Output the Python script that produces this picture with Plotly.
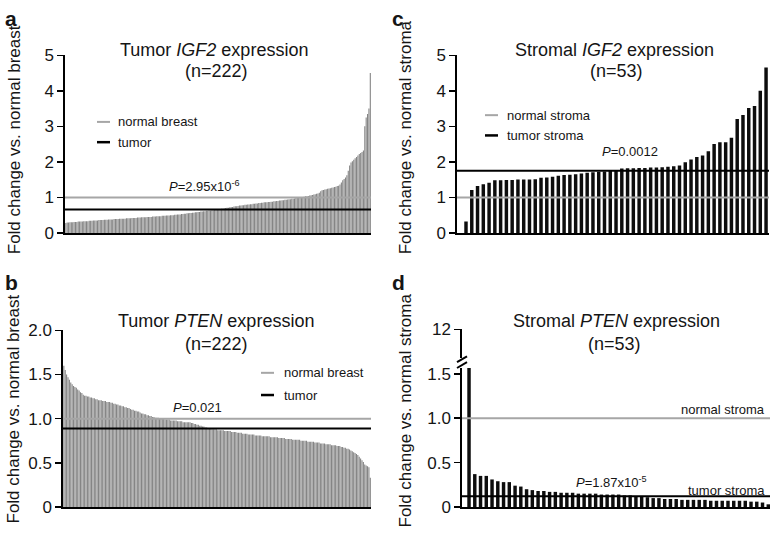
import plotly.graph_objects as go

W, H = 774, 544
FONT = "Liberation Sans, Arial, Helvetica, sans-serif"
TXT = "#151515"
GREY = "#a6a6a6"

# ---------------- data ----------------
# a: tumor IGF2 fold change (n=222), sorted ascending
tumor_igf2 = [
    0.28, 0.29, 0.29, 0.30, 0.30, 0.30, 0.31, 0.31, 0.31, 0.32,
    0.32, 0.32, 0.32, 0.33, 0.33, 0.33, 0.33, 0.34, 0.34, 0.34,
    0.35, 0.35, 0.35, 0.35, 0.36, 0.36, 0.36, 0.36, 0.37, 0.37,
    0.37, 0.38, 0.38, 0.38, 0.38, 0.39, 0.39, 0.39, 0.39, 0.40,
    0.40, 0.40, 0.40, 0.40, 0.41, 0.41, 0.41, 0.41, 0.42, 0.42,
    0.42, 0.42, 0.43, 0.43, 0.43, 0.44, 0.44, 0.44, 0.44, 0.45,
    0.45, 0.45, 0.45, 0.46, 0.46, 0.46, 0.47, 0.47, 0.47, 0.47,
    0.48, 0.48, 0.48, 0.49, 0.49, 0.49, 0.50, 0.50, 0.50, 0.51,
    0.51, 0.52, 0.52, 0.52, 0.53, 0.53, 0.54, 0.54, 0.55, 0.55,
    0.56, 0.56, 0.57, 0.57, 0.58, 0.58, 0.59, 0.59, 0.60, 0.60,
    0.61, 0.61, 0.62, 0.62, 0.63, 0.63, 0.64, 0.64, 0.65, 0.65,
    0.66, 0.66, 0.67, 0.68, 0.68, 0.69, 0.70, 0.71, 0.71, 0.72,
    0.73, 0.73, 0.74, 0.75, 0.75, 0.76, 0.77, 0.77, 0.78, 0.78,
    0.79, 0.79, 0.80, 0.80, 0.81, 0.81, 0.82, 0.82, 0.83, 0.83,
    0.84, 0.84, 0.85, 0.85, 0.86, 0.86, 0.86, 0.87, 0.87, 0.88,
    0.88, 0.89, 0.89, 0.90, 0.90, 0.91, 0.91, 0.92, 0.92, 0.93,
    0.93, 0.94, 0.95, 0.95, 0.96, 0.96, 0.97, 0.98, 0.98, 0.99,
    1.00, 1.00, 1.01, 1.02, 1.03, 1.03, 1.04, 1.05, 1.06, 1.07,
    1.08, 1.09, 1.10, 1.11, 1.13, 1.17, 1.20, 1.21, 1.22, 1.23,
    1.24, 1.25, 1.26, 1.27, 1.28, 1.29, 1.30, 1.32, 1.33, 1.36,
    1.42, 1.48, 1.52, 1.56, 1.62, 1.75, 1.90, 1.98, 2.02, 2.06,
    2.10, 2.14, 2.18, 2.22, 2.25, 2.28, 2.32, 3.00, 3.25, 3.35,
    3.50, 4.50,
]
a_normal = 1.0
a_tumor = 0.66

# b: tumor PTEN fold change (n=222), sorted descending
tumor_pten = [
    1.60, 1.55, 1.50, 1.47, 1.44, 1.41, 1.39, 1.37, 1.36, 1.35,
    1.33, 1.32, 1.30, 1.29, 1.27, 1.26, 1.26, 1.25, 1.25, 1.24,
    1.24, 1.23, 1.23, 1.22, 1.22, 1.21, 1.21, 1.21, 1.20, 1.20,
    1.20, 1.19, 1.19, 1.19, 1.18, 1.18, 1.17, 1.17, 1.16, 1.16,
    1.15, 1.15, 1.14, 1.14, 1.13, 1.13, 1.12, 1.12, 1.11, 1.10,
    1.10, 1.09, 1.09, 1.08, 1.08, 1.07, 1.06, 1.06, 1.05, 1.05,
    1.04, 1.04, 1.03, 1.03, 1.02, 1.02, 1.01, 1.01, 1.01, 1.00,
    1.00, 1.00, 1.00, 0.99, 0.99, 0.99, 0.99, 0.98, 0.98, 0.98,
    0.98, 0.98, 0.97, 0.97, 0.97, 0.97, 0.96, 0.96, 0.96, 0.96,
    0.96, 0.96, 0.95, 0.95, 0.94, 0.94, 0.93, 0.93, 0.92, 0.92,
    0.91, 0.91, 0.90, 0.90, 0.89, 0.89, 0.89, 0.88, 0.88, 0.88,
    0.88, 0.87, 0.87, 0.87, 0.87, 0.87, 0.86, 0.86, 0.86, 0.86,
    0.86, 0.85, 0.85, 0.85, 0.85, 0.84, 0.84, 0.84, 0.84, 0.83,
    0.83, 0.83, 0.83, 0.82, 0.82, 0.82, 0.82, 0.82, 0.81, 0.81,
    0.81, 0.81, 0.81, 0.80, 0.80, 0.80, 0.80, 0.80, 0.80, 0.79,
    0.79, 0.79, 0.79, 0.79, 0.79, 0.78, 0.78, 0.78, 0.78, 0.78,
    0.77, 0.77, 0.77, 0.77, 0.77, 0.76, 0.76, 0.76, 0.76, 0.76,
    0.76, 0.75, 0.75, 0.75, 0.75, 0.75, 0.74, 0.74, 0.74, 0.74,
    0.74, 0.73, 0.73, 0.73, 0.73, 0.72, 0.72, 0.72, 0.72, 0.71,
    0.71, 0.71, 0.71, 0.70, 0.70, 0.70, 0.70, 0.69, 0.69, 0.69,
    0.68, 0.68, 0.67, 0.67, 0.66, 0.66, 0.65, 0.64, 0.63, 0.62,
    0.61, 0.60, 0.59, 0.57, 0.55, 0.53, 0.51, 0.48, 0.47, 0.46,
    0.45, 0.33,
]
b_normal = 1.0
b_tumor = 0.89

# c: stromal IGF2 fold change (n=53), sorted ascending
stromal_igf2 = [
    0.32, 1.21, 1.32, 1.37, 1.41, 1.48, 1.48, 1.49, 1.49, 1.50,
    1.50, 1.50, 1.51, 1.55, 1.56, 1.58, 1.61, 1.63, 1.64, 1.65,
    1.67, 1.69, 1.71, 1.72, 1.73, 1.74, 1.74, 1.81, 1.82, 1.82,
    1.83, 1.83, 1.84, 1.84, 1.85, 1.86, 1.88, 1.90, 1.99, 2.07,
    2.14, 2.18, 2.30, 2.50, 2.55, 2.55, 2.68, 3.21, 3.32, 3.52,
    3.57, 4.00, 4.66,
]
c_normal = 1.0
c_tumor = 1.75

# d: stromal PTEN fold change (n=53), sorted descending (first value off-scale)
stromal_pten = [
    11.6, 0.37, 0.35, 0.35, 0.31, 0.29, 0.28, 0.28, 0.24, 0.23,
    0.20, 0.19, 0.18, 0.18, 0.17, 0.17, 0.16, 0.16, 0.16, 0.15,
    0.15, 0.15, 0.15, 0.14, 0.14, 0.14, 0.14, 0.13, 0.13, 0.12,
    0.12, 0.11, 0.10, 0.10, 0.09, 0.09, 0.09, 0.08, 0.08, 0.08,
    0.08, 0.08, 0.07, 0.07, 0.07, 0.07, 0.07, 0.07, 0.07, 0.06,
    0.06, 0.05, 0.03,
]
d_normal = 1.0
d_tumor = 0.12

ticks_ac = [0, 1, 2, 3, 4, 5]
ticks_b = [0, 0.5, 1.0, 1.5, 2.0]
ticks_b_text = ["0", "0.5", "1.0", "1.5", "2.0"]
ticks_d_low = [0, 0.5, 1.0, 1.5]
ticks_d_low_text = ["0", "0.5", "1.0", "1.5"]
ticks_d_high = [12]

# ---------------- helpers ----------------
def px(x):
    return x / W


def py(y):
    return 1 - y / H


fig = go.Figure()

def add_bars(vals, xa, ya, color, width):
    fig.add_trace(go.Bar(
        x=list(range(len(vals))), y=vals, xaxis=xa, yaxis=ya,
        marker=dict(color=color, line=dict(width=0)), width=width,
        showlegend=False, hoverinfo="skip", cliponaxis=True,
    ))

add_bars(tumor_igf2, "x", "y", "#858585", 0.8)
add_bars(tumor_pten, "x2", "y2", "#858585", 0.8)
add_bars(stromal_igf2, "x3", "y3", "#0d0d0d", 0.6)
add_bars(stromal_pten, "x4", "y4", "#0d0d0d", 0.6)
# helper trace registering the upper (broken) segment of panel d's y axis
fig.add_trace(go.Scatter(
    x=list(range(len(stromal_pten))), y=stromal_pten, xaxis="x4", yaxis="y5",
    mode="markers", marker=dict(opacity=0), showlegend=False, hoverinfo="skip",
))

xcommon = dict(showline=True, linecolor="black", linewidth=2, showticklabels=False,
               ticks="", showgrid=False, zeroline=False, fixedrange=True)
ycommon = dict(showline=True, linecolor="black", linewidth=1.6, ticks="outside",
               ticklen=6, tickwidth=1.5, tickcolor="black", showgrid=False,
               zeroline=False, tickfont=dict(family=FONT, size=17, color=TXT),
               fixedrange=True)

layout = dict(
    width=W, height=H, margin=dict(l=0, r=0, t=0, b=0),
    paper_bgcolor="white", plot_bgcolor="white", showlegend=False,
    font=dict(family=FONT, color=TXT),
    xaxis=dict(domain=[px(65), px(371)], anchor="y", range=[-0.6, 221.5], **xcommon),
    yaxis=dict(domain=[py(232), py(48)], anchor="x", range=[0, 5], tickvals=ticks_ac, **ycommon),
    xaxis2=dict(domain=[px(63), px(371)], anchor="y2", range=[-0.6, 221.5], **xcommon),
    yaxis2=dict(domain=[py(516), py(333)], anchor="x2", range=[0, 2], tickvals=ticks_b,
                ticktext=ticks_b_text, **ycommon),
    xaxis3=dict(domain=[px(457), px(769)], anchor="y3", range=[-1.56, 52.51], **xcommon),
    yaxis3=dict(domain=[py(232), py(48)], anchor="x3", range=[0, 5], tickvals=ticks_ac, **ycommon),
    xaxis4=dict(domain=[px(462), px(770)], anchor="y4", range=[-1.22, 52.3], **xcommon),
    yaxis4=dict(domain=[py(516), py(372)], anchor="x4", range=[0, 1.565], tickvals=ticks_d_low,
                ticktext=ticks_d_low_text, **ycommon),
    yaxis5=dict(domain=[py(362), py(332)], anchor="x4", range=[11.0, 12], tickvals=ticks_d_high,
                **ycommon),
)

shapes = []

def hline(xref_dom, yref, val, color):
    shapes.append(dict(type="line", xref=xref_dom, yref=yref, x0=0, x1=1, y0=val, y1=val,
                       line=dict(color=color, width=2), layer="above"))

hline("x domain", "y", a_normal, GREY)
hline("x domain", "y", a_tumor, "black")
hline("x2 domain", "y2", b_normal, GREY)
hline("x2 domain", "y2", b_tumor, "black")
hline("x3 domain", "y3", c_normal, GREY)
hline("x3 domain", "y3", c_tumor, "black")
hline("x4 domain", "y4", d_normal, GREY)
hline("x4 domain", "y4", d_tumor, "black")

def seg(x0, y0, x1, y1, color, width=2):
    shapes.append(dict(type="line", xref="paper", yref="paper", x0=px(x0), y0=py(y0),
                       x1=px(x1), y1=py(y1), line=dict(color=color, width=width), layer="above"))

# legend keys
seg(97, 117, 110, 117, GREY)
seg(97, 138, 110, 138, "black", 2.5)
seg(261, 377, 274, 377, GREY)
seg(261, 400, 274, 400, "black", 2.5)
seg(485, 110, 498, 110, GREY)
seg(485, 131, 498, 131, "black", 2.5)
# axis break marks on panel d
seg(457, 366, 467, 360, "black", 2)
seg(457, 372, 467, 366, "black", 2)

layout["shapes"] = shapes

annotations = []

def ann(text, x, y, size, xanchor="center", bold=False, angle=0):
    if bold:
        text = "<b>" + text + "</b>"
    annotations.append(dict(text=text, x=px(x), y=py(y), xref="paper", yref="paper",
                            showarrow=False, xanchor=xanchor, yanchor="middle",
                            textangle=angle, font=dict(family=FONT, size=size, color=TXT)))

# panel letters
ann("a", 11, 10, 21, bold=True)
ann("c", 398, 10, 21, bold=True)
ann("b", 11, 283, 21, bold=True)
ann("d", 398, 283, 21, bold=True)

# titles
ann("Tumor <i>IGF2</i> expression", 214, 42, 18)
ann("(n=222)", 216, 64, 18)
ann("Stromal <i>IGF2</i> expression", 614, 42, 18)
ann("(n=53)", 616, 64, 18)
ann("Tumor <i>PTEN</i> expression", 216, 323, 18)
ann("(n=222)", 216, 347, 18)
ann("Stromal <i>PTEN</i> expression", 616, 323, 18)
ann("(n=53)", 614, 347, 18)

# axis titles
ann("Fold change vs. normal breast", 14, 136, 17, angle=-90)
ann("Fold change vs. normal stroma", 405, 133, 17, angle=-90)
ann("Fold change vs. normal breast", 14, 415, 17, angle=-90)
ann("Fold change vs. normal stroma", 405, 416, 17, angle=-90)

# legends
ann("normal breast", 116, 117, 13, xanchor="left")
ann("tumor", 116, 138, 13, xanchor="left")
ann("normal breast", 282, 377, 13, xanchor="left")
ann("tumor", 282, 400, 13, xanchor="left")
ann("normal stroma", 505, 110, 13, xanchor="left")
ann("tumor stroma", 505, 131, 13, xanchor="left")
ann("normal stroma", 767, 415, 13, xanchor="right")
ann("tumor stroma", 767, 499, 13, xanchor="right")

# p values
ann("<i>P</i>=2.95x10<sup>-6</sup>", 204, 183, 13)
ann("<i>P</i>=0.021", 197, 413, 13)
ann("<i>P</i>=0.0012", 630, 148, 13)
ann("<i>P</i>=1.87x10<sup>-5</sup>", 611, 490, 13)

layout["annotations"] = annotations
fig.update_layout(**layout)
fig.write_html(
    "out.html",
    config={"displayModeBar": False, "staticPlot": True},
    post_script="document.body.style.margin='0';document.body.style.overflow='hidden';",
)
